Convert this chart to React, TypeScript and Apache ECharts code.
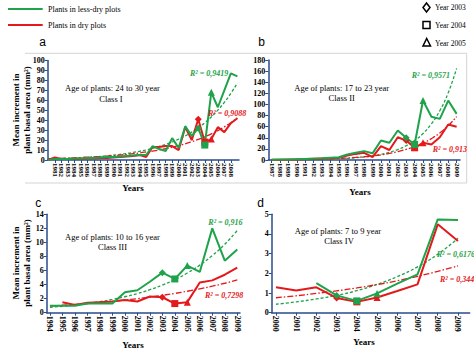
import React, { useEffect, useRef } from "react";
import * as echarts from "echarts";

const SERIF = '"Liberation Serif", "DejaVu Serif", serif';
const SANS = '"Liberation Sans", Arial, sans-serif';
const GREEN = "#1fa34a";
const RED = "#e3191c";
const AX = "#2a4b8d";
const FRAME = "#d4d4d4";

// Panel a: Class I, 1980-2009
const yearsA = [1980,1981,1982,1983,1984,1985,1986,1987,1988,1989,1990,1991,1992,1993,1994,1995,1996,1997,1998,1999,2000,2001,2002,2003,2004,2005,2006,2007,2008,2009];
const greenA = [0,1,1,1,1.5,1.5,2,2,2.5,3,3,3.5,4,4.5,5,5,14,11,9,22,12,34,24,32,15,68,53,70,87,84];
const redA = [0,2.5,1,1,1,1,1.5,1.5,2,2,2.5,3,3.5,4,5,3,13,13,14,14,10,33,20,41,18,21,33,28,37,42];
const greenTrendA = [1.15,1.33,1.54,1.78,2.05,2.38,2.75,3.18,3.67,4.25,4.91,5.68,6.56,7.59,8.77,10.1,11.7,13.6,15.7,18.1,21.0,24.2,28.0,32.4,37.5,43.3,50.1,57.9,66.9,77.4];
const redTrendA = [1.35,1.52,1.71,1.93,2.17,2.45,2.76,3.11,3.5,3.94,4.44,5.0,5.63,6.34,7.14,8.04,9.0,10.1,11.4,12.8,14.5,16.3,18.4,20.7,23.3,26.2,29.5,33.3,37.5,42.2];

// Panel b: Class II, 1987-2009
const yearsB = [1987,1988,1989,1990,1991,1992,1993,1994,1995,1996,1997,1998,1999,2000,2001,2002,2003,2004,2005,2006,2007,2008,2009];
const greenB = [0.5,1,1,1.5,2,2.5,3,4,5,10,13,16,12,35,31,53,40,28,107,78,74,107,83];
const redB = [0.3,0.5,0.8,1,1.5,2,2.5,3,4,8,11,13,5,25,18,41,35,22,31,28,41,64,60];
const greenTrendB = [0.18,0.24,0.33,0.46,0.62,0.85,1.16,1.58,2.15,2.93,3.99,5.44,7.42,10.1,13.8,18.8,25.7,35,47.7,65.1,88.7,121,165];
const redTrendB = [0.43,0.55,0.7,0.89,1.12,1.42,1.79,2.27,2.87,3.63,4.6,5.83,7.38,9.35,11.8,15.0,19.0,24,30.4,38.5,48.7,61.7,78.1];

// Panel c: Class III, 1994-2009
const yearsC = [1994,1995,1996,1997,1998,1999,2000,2001,2002,2003,2004,2005,2006,2007,2008,2009];
const greenC = [1.0,1.0,1.0,1.3,1.3,1.3,2.9,3.2,4.4,5.7,4.8,6.7,5.8,12.0,7.4,9.0];
const redC = [null,1.5,1.1,1.4,1.5,1.6,1.8,1.6,2.3,2.2,1.3,1.5,4.3,4.6,5.4,6.4];
const greenTrendC = [0.76,0.91,1.1,1.31,1.58,1.89,2.27,2.72,3.27,3.92,4.7,5.64,6.77,8.12,9.74,11.7];
const redTrendC = [0.95,1.06,1.18,1.31,1.46,1.62,1.8,2.0,2.22,2.47,2.74,3.05,3.39,3.77,4.19,4.66];

// Panel d: Class IV, 2000-2009
const yearsD = [2000,2001,2002,2003,2004,2005,2006,2007,2008,2009];
const greenD = [null,null,1.5,0.88,0.6,0.98,1.48,1.95,4.74,4.71];
const redD = [1.29,1.13,1.29,0.75,0.55,0.77,1.1,1.44,4.49,3.64];
const greenTrendD = [0.43,0.55,0.7,0.88,1.12,1.44,1.83,2.33,2.97,3.78];
const redTrendD = [0.76,0.86,0.98,1.11,1.26,1.43,1.62,1.85,2.1,2.38];

const markerYears: Record<number, string> = { 2003: "diamond", 2004: "rect", 2005: "triangle" };

function dataPts(years: number[], vals: (number | null)[], markers: boolean) {
  const out: any[] = [];
  years.forEach((y, i) => {
    const v = vals[i];
    if (v == null) return;
    if (markers && markerYears[y]) {
      out.push({ value: [y, v], symbol: markerYears[y], symbolSize: 7 });
    } else {
      out.push({ value: [y, v], symbol: "none" });
    }
  });
  return out;
}

function dataSeries(idx: number, years: number[], vals: (number | null)[], color: string) {
  return {
    type: "line",
    xAxisIndex: idx,
    yAxisIndex: idx,
    data: dataPts(years, vals, true),
    showSymbol: true,
    symbol: "none",
    itemStyle: { color },
    lineStyle: { color, width: 2 },
    z: 3,
  };
}

function trendSeries(idx: number, years: number[], vals: number[], color: string, dash: number[]) {
  return {
    type: "line",
    xAxisIndex: idx,
    yAxisIndex: idx,
    data: dataPts(years, vals, false),
    symbol: "none",
    smooth: true,
    lineStyle: { color, width: 1.3, type: dash },
    z: 2,
  };
}

function xAx(gridIndex: number, min: number, max: number, years: number[], fontSize: number) {
  return {
    type: "value",
    gridIndex,
    min,
    max,
    axisLine: { show: true, onZero: false, lineStyle: { color: AX, width: 1.5 } },
    axisTick: { show: true, customValues: years, length: 3, lineStyle: { color: AX } },
    axisLabel: {
      customValues: years,
      rotate: -90,
      fontSize,
      fontWeight: "bold",
      fontFamily: SERIF,
      color: "#000",
      margin: 3,
      hideOverlap: false,
      formatter: (v: number) => String(v),
    },
    splitLine: { show: false },
  };
}

function yAx(gridIndex: number, max: number, interval: number) {
  return {
    type: "value",
    gridIndex,
    min: 0,
    max,
    interval,
    axisLine: { show: true, lineStyle: { color: AX, width: 1.5 } },
    axisTick: { show: true, length: 3, lineStyle: { color: AX } },
    axisLabel: { fontSize: 8, fontWeight: "bold", fontFamily: SERIF, color: "#000", margin: 3 },
    splitLine: { show: false },
  };
}

function txt(x: number, y: number, text: string, opts: any = {}) {
  return {
    type: "text",
    x,
    y,
    rotation: opts.rotation || 0,
    z: 10,
    style: {
      text,
      fill: opts.fill || "#000",
      fontSize: opts.fontSize || 8,
      fontFamily: opts.fontFamily || SERIF,
      fontWeight: opts.fontWeight || "normal",
      fontStyle: opts.fontStyle || "normal",
      textAlign: opts.align || "left",
      textVerticalAlign: "middle",
      lineHeight: opts.lineHeight,
    },
  };
}

function hline(x1: number, x2: number, y: number, color = FRAME, w = 1) {
  return { type: "line", shape: { x1, y1: y, x2, y2: y }, style: { stroke: color, lineWidth: w } };
}
function vline(x: number, y1: number, y2: number, color = FRAME, w = 1) {
  return { type: "line", shape: { x1: x, y1, x2: x, y2 }, style: { stroke: color, lineWidth: w } };
}

export default function App() {
  const ref = useRef<HTMLDivElement>(null);
  useEffect(() => {
    if (!ref.current) return;
    const chart = echarts.init(ref.current, undefined, { renderer: "svg" });
    const r2 = (x: number, y: number, t: string, c: string) =>
      txt(x, y, t, { fill: c, fontStyle: "italic", fontWeight: "bold", fontSize: 8 });
    const yTitle = (x: number, y: number) =>
      txt(x, y, "Mean increment in\nplant basal area (mm²)", {
        rotation: Math.PI / 2,
        align: "center",
        fontWeight: "bold",
        fontSize: 9,
        lineHeight: 11,
      });
    const option: any = {
      animation: false,
      grid: [
        { left: 47.7, top: 60.5, width: 191.3, height: 99.5 },
        { left: 268.3, top: 60, width: 191.7, height: 100 },
        { left: 46.7, top: 214.3, width: 193.3, height: 98.4 },
        { left: 271.7, top: 214.3, width: 198, height: 98.4 },
      ],
      xAxis: [
        xAx(0, 1979.9, 2009.25, yearsA, 7),
        xAx(1, 1986.6, 2009.4, yearsB, 7),
        xAx(2, 1993.74, 2009.22, yearsC, 8),
        xAx(3, 1999.79, 2009.58, yearsD, 8),
      ],
      yAxis: [yAx(0, 100, 10), yAx(1, 180, 20), yAx(2, 14, 2), yAx(3, 5, 1)],
      series: [
        trendSeries(0, yearsA, greenTrendA, GREEN, [3, 2]),
        trendSeries(0, yearsA, redTrendA, RED, [6, 2, 1.5, 2]),
        dataSeries(0, yearsA, redA, RED),
        dataSeries(0, yearsA, greenA, GREEN),
        trendSeries(1, yearsB, greenTrendB, GREEN, [3, 2]),
        trendSeries(1, yearsB, redTrendB, RED, [6, 2, 1.5, 2]),
        dataSeries(1, yearsB, redB, RED),
        dataSeries(1, yearsB, greenB, GREEN),
        trendSeries(2, yearsC, greenTrendC, GREEN, [3, 2]),
        trendSeries(2, yearsC, redTrendC, RED, [6, 2, 1.5, 2]),
        dataSeries(2, yearsC, redC, RED),
        dataSeries(2, yearsC, greenC, GREEN),
        trendSeries(3, yearsD, greenTrendD, GREEN, [3, 2]),
        trendSeries(3, yearsD, redTrendD, RED, [6, 2, 1.5, 2]),
        dataSeries(3, yearsD, redD, RED),
        dataSeries(3, yearsD, greenD, GREEN),
      ],
      graphic: [
        // frames
        hline(25, 240, 53.3),
        hline(25, 240, 183),
        hline(240, 466.7, 53.3),
        hline(240, 466.7, 183),
        vline(466.7, 53.3, 183),
        // legend
        hline(8, 42.7, 9, GREEN, 2),
        hline(8, 42.7, 25, RED, 2),
        txt(48, 9, "Plants in less-dry plots", { fontSize: 8 }),
        txt(48, 25, "Plants in dry plots", { fontSize: 8 }),
        { type: "polygon", shape: { points: [[426.5, 3], [430, 7.5], [426.5, 12], [423, 7.5]] }, style: { fill: "#fff", stroke: "#000", lineWidth: 1.5 } },
        { type: "rect", shape: { x: 423, y: 21.5, width: 7, height: 7 }, style: { fill: "#fff", stroke: "#000", lineWidth: 1.5 } },
        { type: "polygon", shape: { points: [[426.7, 38.5], [430.5, 46], [423, 46]] }, style: { fill: "#fff", stroke: "#000", lineWidth: 1.5 } },
        txt(435, 7.5, "Year 2003", { fontSize: 7.5 }),
        txt(435, 25, "Year 2004", { fontSize: 7.5 }),
        txt(435, 43, "Year 2005", { fontSize: 7.5 }),
        // panel letters
        txt(42.7, 41.7, "a", { fontFamily: SANS, fontSize: 12, align: "center" }),
        txt(261.7, 41.7, "b", { fontFamily: SANS, fontSize: 12, align: "center" }),
        txt(38.3, 203, "c", { fontFamily: SANS, fontSize: 12, align: "center" }),
        txt(260.7, 203, "d", { fontFamily: SANS, fontSize: 12, align: "center" }),
        // y titles
        yTitle(21, 110),
        yTitle(21, 263),
        // x titles
        txt(133, 187.7, "Years", { fontWeight: "bold", fontSize: 9, align: "center" }),
        txt(360, 191.7, "Years", { fontWeight: "bold", fontSize: 9, align: "center" }),
        txt(133, 345, "Years", { fontWeight: "bold", fontSize: 9, align: "center" }),
        txt(364, 341.5, "Years", { fontWeight: "bold", fontSize: 9, align: "center" }),
        // annotations
        txt(112.5, 88.3, "Age of plants: 24 to 30 year", { align: "center", fontSize: 8.5 }),
        txt(111, 98.5, "Class I", { align: "center", fontSize: 8.5 }),
        txt(341.7, 88.3, "Age of plants: 17 to 23 year", { align: "center", fontSize: 8.5 }),
        txt(341.7, 98, "Class II", { align: "center", fontSize: 8.5 }),
        txt(112.5, 237.3, "Age of plants: 10 to 16 year", { align: "center", fontSize: 8.5 }),
        txt(112.5, 247, "Class III", { align: "center", fontSize: 8.5 }),
        txt(338, 230.7, "Age of plants: 7 to 9 year", { align: "center", fontSize: 8.5 }),
        txt(339, 240.5, "Class IV", { align: "center", fontSize: 8.5 }),
        // R² labels
        r2(190, 73.3, "R² = 0,9419", GREEN),
        r2(208, 113.5, "R² = 0,9088", RED),
        r2(411.7, 75, "R² = 0,9571", GREEN),
        r2(432.7, 149.3, "R² = 0,913", RED),
        r2(208.3, 222.7, "R² = 0,916", GREEN),
        r2(205, 295, "R² = 0,7298", RED),
        r2(436.7, 254, "R² = 0,6176", GREEN),
        r2(440, 279.3, "R² = 0,344", RED),
      ],
    };
    chart.setOption(option);
    return () => chart.dispose();
  }, []);
  return (
    <div
      ref={ref}
      style={{ position: "absolute", left: 0, top: 0, width: 474, height: 349, background: "#fff" }}
    />
  );
}
